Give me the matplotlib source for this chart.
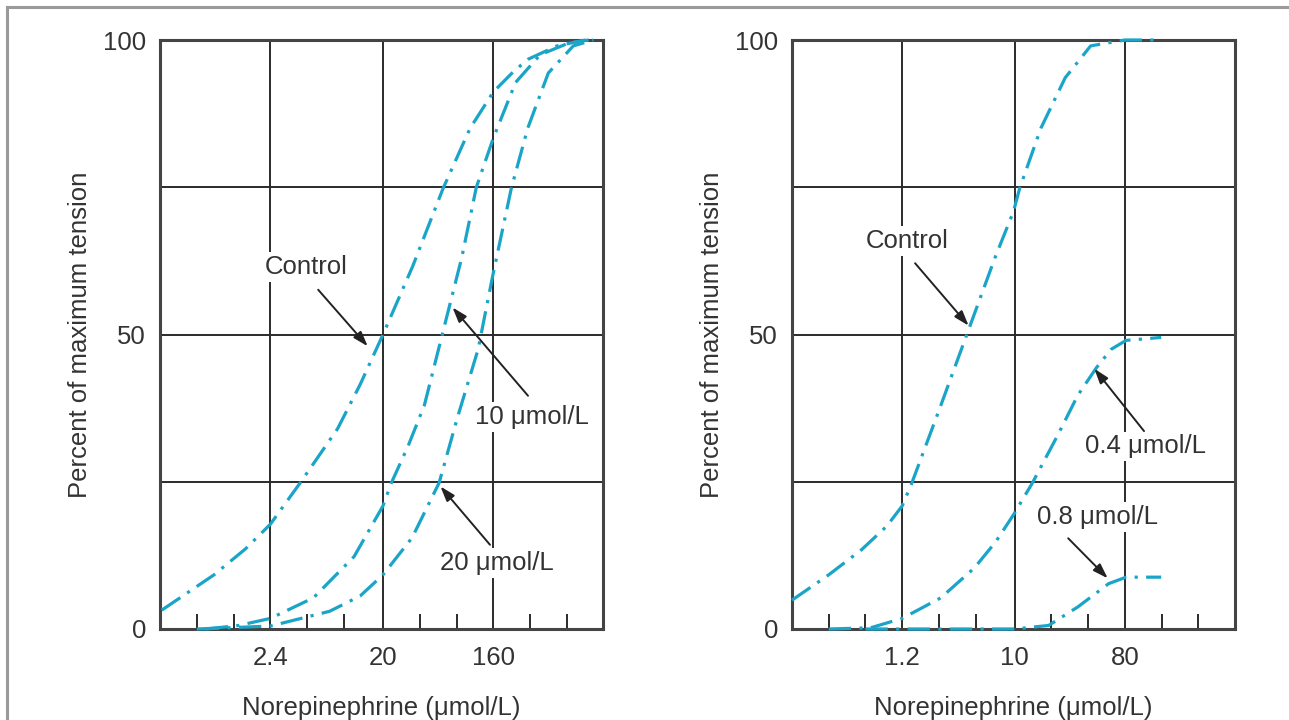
import matplotlib
matplotlib.use("Agg")
import matplotlib.pyplot as plt
from matplotlib.lines import Line2D
from matplotlib.ticker import FixedLocator, NullFormatter

plt.rcParams['font.family'] = ['Liberation Sans', 'DejaVu Sans']

# data (norepinephrine umol/L, percent of max tension)
left_ctrl_x = [0.31, 0.83, 1.5, 2.4, 4.2, 8.5, 13, 20, 35, 62, 103, 160, 230, 305, 530, 900]
left_ctrl_y = [3.2, 9.2, 13.6, 17.8, 24.8, 34, 41.5, 50, 61.6, 74.8, 85, 91.2, 94.5, 96.7, 99, 100]

left_10_x = [0.71, 1.32, 2.4, 5.4, 11.6, 20, 23.4, 32, 43.6, 64.6, 88, 116, 160, 243, 386, 664, 960]
left_10_y = [0, 0.6, 1.8, 5.3, 12.3, 20.9, 24.8, 31, 38, 52, 63, 75, 83.4, 92.8, 97.5, 99.5, 100]

left_20_x = [0.6, 2.4, 7.3, 13, 20, 34.6, 57.5, 81, 120, 158, 224, 305, 450, 720, 1050]
left_20_y = [0, 0.5, 3, 5.6, 9.2, 15.5, 24.8, 35.8, 47.5, 60, 74.8, 85, 94.4, 99, 100]

right_ctrl_x = [0.15, 0.30, 0.56, 0.9, 1.2, 1.44, 2.49, 4.3, 6.9, 9.8, 11.0, 16.4, 26, 42, 80, 160]
right_ctrl_y = [4.9, 9.2, 13.5, 17.5, 20.9, 24.8, 38, 51.4, 63, 70.9, 74.8, 85, 93.6, 99, 100, 100]

right_04_x = [0.3, 0.66, 1.2, 2.49, 4.7, 7, 9.8, 14, 22.3, 33, 47, 62, 82, 159]
right_04_y = [0, 0.2, 1.8, 5.3, 10.4, 14.8, 19.4, 24.8, 32.7, 39.7, 44.4, 47.5, 49, 49.5]

right_08_x = [0.6, 10, 19, 33, 59, 82, 159]
right_08_y = [0, 0, 0.6, 3.75, 7.7, 8.8, 8.8]

left_ticks = [2.4, 20, 160]
left_minor = [0.6, 1.2, 4.8, 9.6, 40, 80, 320, 640]
right_ticks = [1.2, 10, 80]
right_minor = [0.3, 0.6, 2.4, 4.8, 20, 40, 160, 320]

# labels: (text, text pos, arrow tail, arrow tip)
left_notes = [("Control", (4.7, 61.5), (5.9, 57.6), (15.0, 48.0)),
              ("10 \u03bcmol/L", (330, 36), (307, 39.6), (74, 54.6)),
              ("20 \u03bcmol/L", (172, 11.2), (150, 14.3), (59, 24.2))]
right_notes = [("Control", (1.32, 65.9), (1.53, 62.1), (4.2, 51.5)),
               ("0.4 \u03bcmol/L", (118, 31), (115, 33.6), (45, 44.2)),
               ("0.8 \u03bcmol/L", (47.6, 19), (27.5, 15.4), (58, 8.6))]

CYAN = '#1aa5c8'
INK = '#2b2b2b'
FS = 18.5

fig = plt.figure(figsize=(12.89, 7.2), dpi=100)
fig.add_artist(Line2D([7/1289, 1.01], [1 - 7/720, 1 - 7/720], color='#9a9a9a', lw=2.2))
fig.add_artist(Line2D([7/1289, 7/1289], [-0.01, 1 - 7/720], color='#9a9a9a', lw=2.2))

ax1 = fig.add_axes([160/1289, 91/720, 443/1289, 589/720])
ax2 = fig.add_axes([792/1289, 91/720, 443/1289, 589/720])


def setup(ax, xlim, ticks, minor):
    ax.set_xscale('log', base=2)
    ax.set_xlim(*xlim)
    ax.set_ylim(0, 100)
    ax.xaxis.set_major_locator(FixedLocator(ticks))
    ax.set_xticklabels([('%g' % t) for t in ticks])
    ax.xaxis.set_minor_locator(FixedLocator(minor))
    ax.xaxis.set_minor_formatter(NullFormatter())
    ax.set_yticks([0, 50, 100])
    ax.yaxis.set_minor_locator(FixedLocator([25, 75]))
    ax.tick_params(axis='both', which='major', length=0, labelsize=FS, labelcolor='#333333')
    ax.tick_params(axis='x', which='major', pad=12)
    ax.tick_params(axis='y', which='major', pad=10)
    ax.tick_params(axis='y', which='minor', length=0)
    ax.tick_params(axis='x', which='minor', direction='in', length=11, width=1.4, color=INK)
    ax.grid(True, which='major', color=INK, lw=1.4)
    ax.grid(True, which='minor', axis='y', color=INK, lw=1.4)
    ax.grid(False, which='minor', axis='x')
    for s in ax.spines.values():
        s.set_color('#444444')
        s.set_linewidth(2.2)
    ax.set_xlabel('Norepinephrine (\u03bcmol/L)', fontsize=FS, color='#333333', labelpad=19)
    ax.set_ylabel('Percent of maximum tension', fontsize=FS, color='#333333', labelpad=8)


def curve(ax, x, y):
    ax.plot(x, y, color=CYAN, lw=2.3, dashes=(7, 2.6, 1, 2.6), solid_capstyle='butt',
            dash_capstyle='butt', zorder=3, clip_on=False)


def notes(ax, items):
    for txt, pos, tail, tip in items:
        ax.text(pos[0], pos[1], txt, fontsize=FS, color='#333333', ha='center', va='center',
                zorder=5, bbox=dict(facecolor='white', edgecolor='none', pad=2))
        ax.annotate('', xy=tip, xytext=tail, zorder=6,
                    arrowprops=dict(arrowstyle='-|>,head_length=0.9,head_width=0.3',
                                    color='#222222', lw=1.4, shrinkA=0, shrinkB=0))


setup(ax1, (0.3, 1260), left_ticks, left_minor)
curve(ax1, left_ctrl_x, left_ctrl_y)
curve(ax1, left_10_x, left_10_y)
curve(ax1, left_20_x, left_20_y)
notes(ax1, left_notes)

setup(ax2, (0.15, 640), right_ticks, right_minor)
curve(ax2, right_ctrl_x, right_ctrl_y)
curve(ax2, right_04_x, right_04_y)
curve(ax2, right_08_x, right_08_y)
notes(ax2, right_notes)

fig.savefig('out.png', dpi=100)
